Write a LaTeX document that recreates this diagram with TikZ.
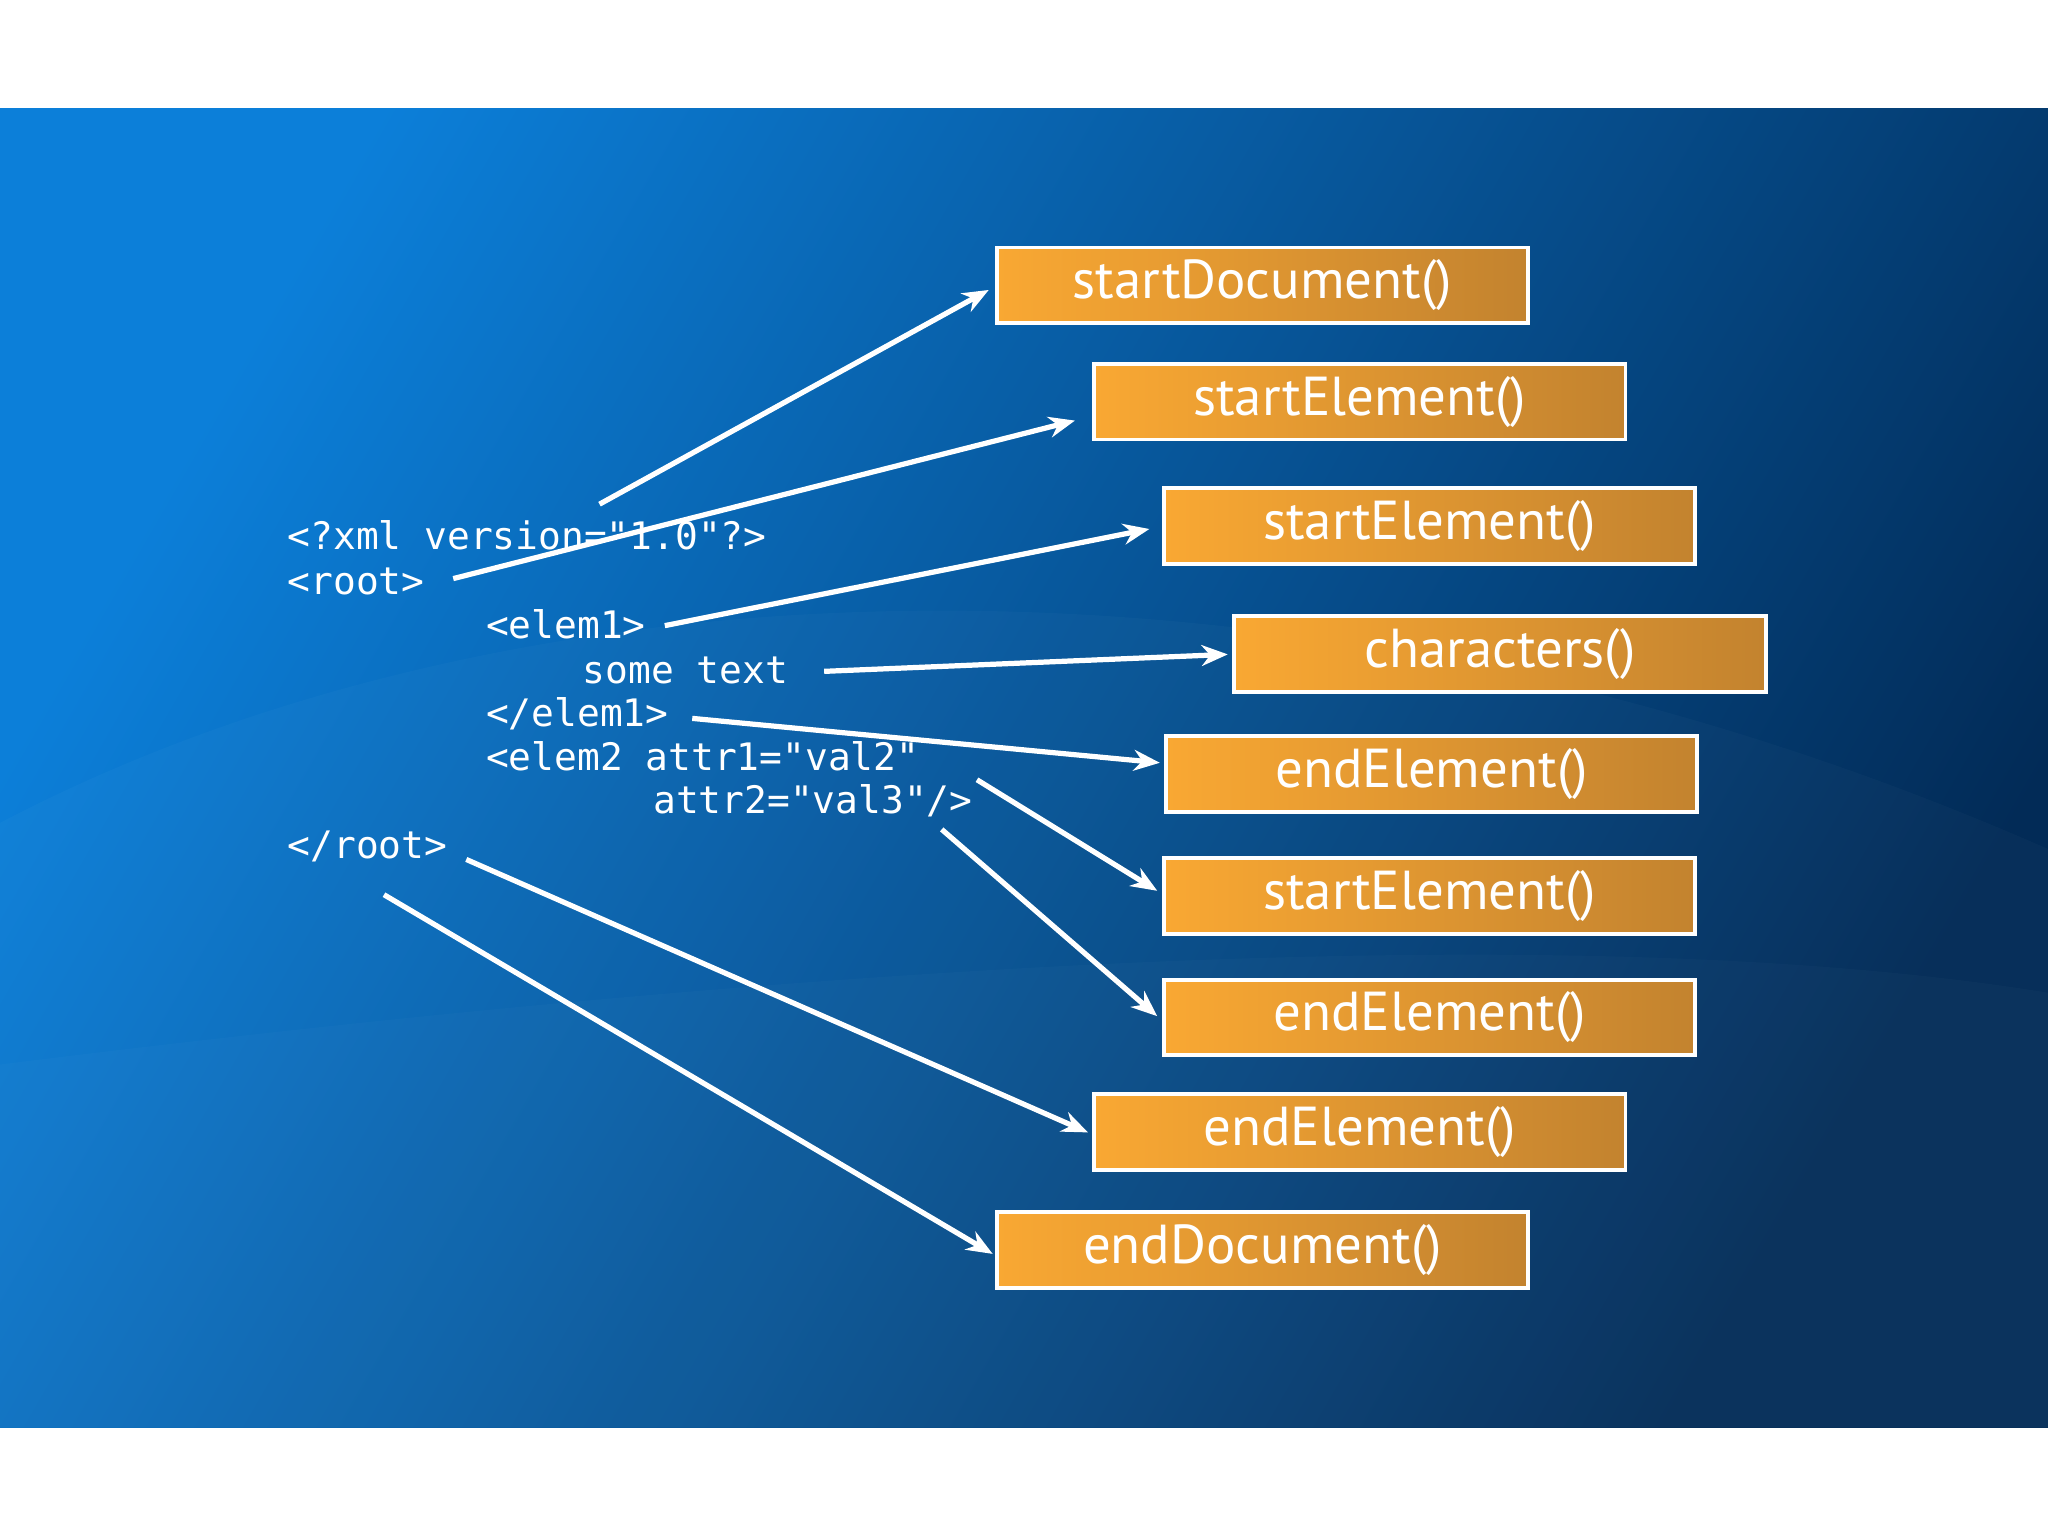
\documentclass[tikz,border=0pt]{standalone}
\usepackage{fontspec}
\setsansfont{PT Sans}
\setmonofont{DejaVu Sans Mono}
\usetikzlibrary{arrows.meta}
\definecolor{bgA}{HTML}{0C7FD9}
\definecolor{bgD}{HTML}{022B57}
\definecolor{orA}{HTML}{F9A833}
\definecolor{orB}{HTML}{C3832F}
\begin{document}
\begin{tikzpicture}[x=1pt,y=-1pt,
  fn/.style={draw=white,line width=3pt,left color=orA,right color=orB,minimum width=407pt,minimum height=58pt,inner sep=0pt,font=\sffamily\fontsize{42}{42}\selectfont,text=white},
  code/.style={anchor=base west,inner sep=0pt,text=white,font=\ttfamily\fontsize{29}{29}\selectfont},
  arr/.style={draw=white,line width=4pt,-{Stealth[length=20pt,width=16pt]}}]
\useasboundingbox (0,0) rectangle (1568,1176);
\fill[white] (0,0) rectangle (1568,1176);
\shade[left color=bgA,right color=bgD,shading angle=60] (0,83) rectangle (1568,1093);
\fill[white,opacity=0.025] (0,630) .. controls (400,420) and (1000,400) .. (1568,650) -- (1568,1093) -- (0,1093) -- cycle;
\fill[white,opacity=0.02] (0,815) .. controls (600,740) and (1200,700) .. (1568,760) -- (1568,1093) -- (0,1093) -- cycle;
% boxes
\node[fn] (b1) at (966.5,218.5) {startDocument()};
\node[fn] (b2) at (1041,307.5) {startElement()};
\node[fn] (b3) at (1094.5,402.5) {startElement()};
\node[fn] (b4) at (1148.5,500.5) {characters()};
\node[fn] (b5) at (1096,592.5) {endElement()};
\node[fn] (b6) at (1094.5,686) {startElement()};
\node[fn] (b7) at (1094.5,779) {endElement()};
\node[fn] (b8) at (1041,866.5) {endElement()};
\node[fn] (b9) at (966.5,957) {endDocument()};
% code
\node[code] (l1) at (220,421) {<?xml version="1.0"?>};
\node[code] (l2) at (220,455) {<root>};
\node[code] (l3) at (372,489) {<elem1>};
\node[code] (l4) at (446,523) {some text};
\node[code] (l5) at (372,556) {</elem1>};
\node[code] (l6) at (372,590) {<elem2 attr1="val2"};
\node[code] (l7) at (500,623) {attr2="val3"/>};
\node[code] (l8) at (220,657) {</root>};
% endpoints
\coordinate (s1) at (459,386); \coordinate (e1) at (757,222);
\coordinate (s2) at (347,443); \coordinate (e2) at (823,322);
\coordinate (s3) at (509,479); \coordinate (e3) at (880,405);
\coordinate (s4) at (631,514); \coordinate (e4) at (940,501);
\coordinate (s5) at (530,550); \coordinate (e5) at (888,584);
\coordinate (s6) at (748,597); \coordinate (e6) at (886,682);
\coordinate (s7) at (721,635); \coordinate (e7) at (886,778);
\coordinate (s8) at (357,658); \coordinate (e8) at (833,867);
\coordinate (s9) at (294,685); \coordinate (e9) at (760,960);
\foreach \i in {1,...,9} \draw[arr] (s\i) -- (e\i);
\end{tikzpicture}
\end{document}
